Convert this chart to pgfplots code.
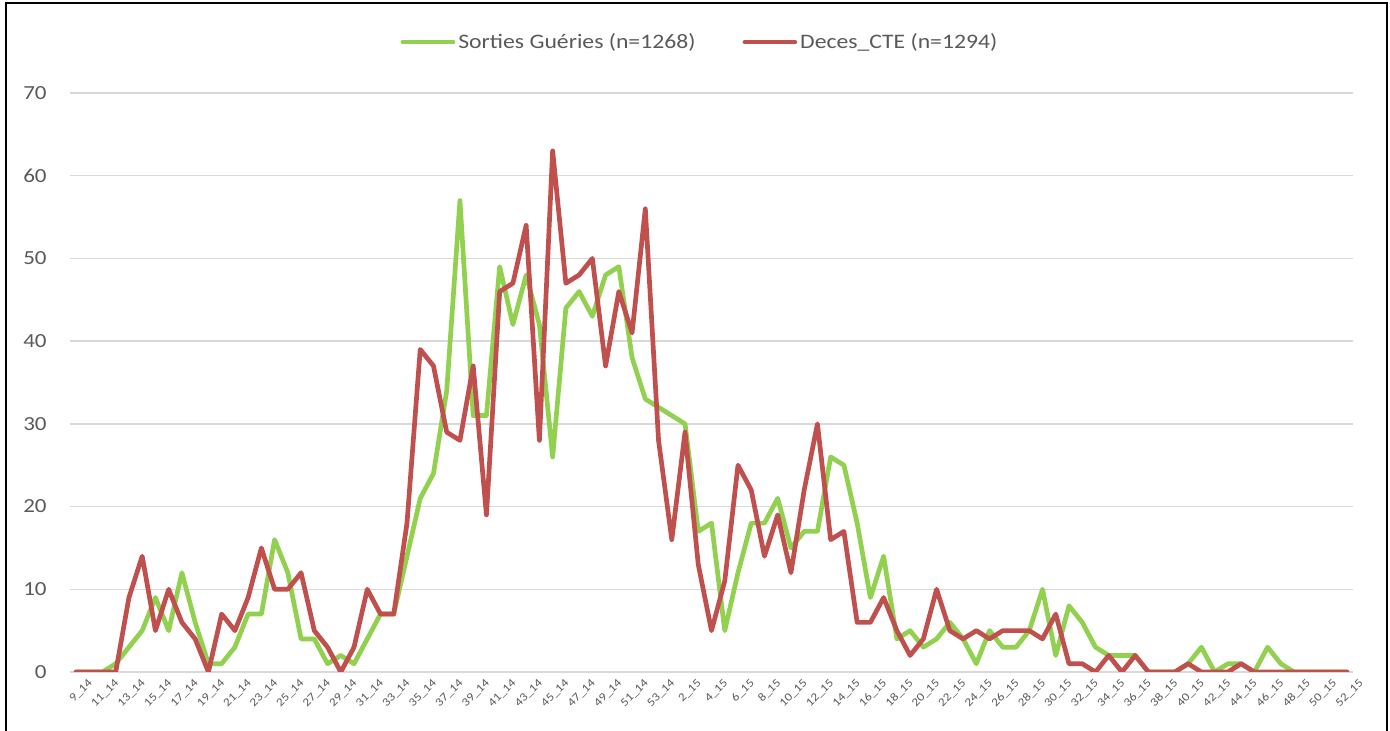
\documentclass[border=0pt]{standalone}
\usepackage{pgfplots}
\pgfplotsset{compat=1.18}
\usepackage{pgfplotstable}
\usepackage{fontspec}
\setmainfont{Carlito}[FakeStretch=1.15]

\definecolor{guer}{HTML}{92D050}
\definecolor{dec}{HTML}{C0504D}
\definecolor{txt}{HTML}{595959}
\definecolor{grd}{HTML}{D9D9D9}

% idx: 0 = 9_14 ... 44 = 53_14, 45 = 1_15 ... 96 = 52_15
\pgfplotstableread{
idx g d
0 0 0
1 0 0
2 0 0
3 1 0
4 3 9
5 5 14
6 9 5
7 5 10
8 12 6
9 6 4
10 1 0
11 1 7
12 3 5
13 7 9
14 7 15
15 16 10
16 12 10
17 4 12
18 4 5
19 1 3
20 2 0
21 1 3
22 4 10
23 7 7
24 7 7
25 14 18
26 21 39
27 24 37
28 34 29
29 57 28
30 31 37
31 31 19
32 49 46
33 42 47
34 48 54
35 42 28
36 26 63
37 44 47
38 46 48
39 43 50
40 48 37
41 49 46
42 38 41
43 33 56
44 32 28
45 31 16
46 30 29
47 17 13
48 18 5
49 5 11
50 12 25
51 18 22
52 18 14
53 21 19
54 15 12
55 17 22
56 17 30
57 26 16
58 25 17
59 18 6
60 9 6
61 14 9
62 4 5
63 5 2
64 3 4
65 4 10
66 6 5
67 4 4
68 1 5
69 5 4
70 3 5
71 3 5
72 5 5
73 10 4
74 2 7
75 8 1
76 6 1
77 3 0
78 2 2
79 2 0
80 2 2
81 0 0
82 0 0
83 0 0
84 1 1
85 3 0
86 0 0
87 1 0
88 1 1
89 0 0
90 3 0
91 1 0
92 0 0
93 0 0
94 0 0
95 0 0
96 0 0
}\weeks

\begin{document}
\begin{tikzpicture}
\begin{axis}[
  scale only axis,
  width=641.5pt, height=289.5pt,
  xmin=-0.453, xmax=96.453,
  ymin=0, ymax=70,
  ytick={0,10,...,70},
  xtick={0,2,...,96},
  xticklabels={9\_14,11\_14,13\_14,15\_14,17\_14,19\_14,21\_14,23\_14,25\_14,27\_14,29\_14,31\_14,33\_14,35\_14,37\_14,39\_14,41\_14,43\_14,45\_14,47\_14,49\_14,51\_14,53\_14,2\_15,4\_15,6\_15,8\_15,10\_15,12\_15,14\_15,16\_15,18\_15,20\_15,22\_15,24\_15,26\_15,28\_15,30\_15,32\_15,34\_15,36\_15,38\_15,40\_15,42\_15,44\_15,46\_15,48\_15,50\_15,52\_15},
  major tick length=0pt,
  axis line style={draw=none},
  ymajorgrids,
  grid style={grd, line width=0.7pt},
  /pgf/number format/assume math mode=true,
  yticklabel style={font=\fontsize{10}{12}\selectfont, text=txt, anchor=east, inner sep=0pt, xshift=-11.5pt},
  xticklabel style={font=\fontsize{5.8}{7}\selectfont, text=txt, rotate=45, anchor=east, inner sep=0pt, xshift=2pt, yshift=-8.5pt},
  legend columns=2,
  legend style={at={(0.4914,1.088)}, anchor=center, draw=none, fill=none,
    font=\fontsize{10.3}{12}\selectfont, text=txt,
    nodes={inner sep=1.5pt},
    /tikz/every even column/.append style={column sep=22pt}},
  legend image code/.code={\draw[#1] (0pt,0pt) -- (25pt,0pt);},
  every axis plot/.append style={line width=2.35pt, line join=round, line cap=round},
]
\addplot[guer] table[x=idx, y=g] {\weeks};
\addlegendentry{Sorties Guéries (n=1268)}
\addplot[dec] table[x=idx, y=d] {\weeks};
\addlegendentry{Deces\_CTE (n=1294)}
\end{axis}
\pgfresetboundingbox
\useasboundingbox (-35pt,-29.5pt) rectangle (660pt,336pt);
\draw[black, line width=1pt] (-32pt,-31pt) -- (-32pt,334.25pt) -- (658.25pt,334.25pt) -- (658.25pt,-31pt);
\end{tikzpicture}
\end{document}
